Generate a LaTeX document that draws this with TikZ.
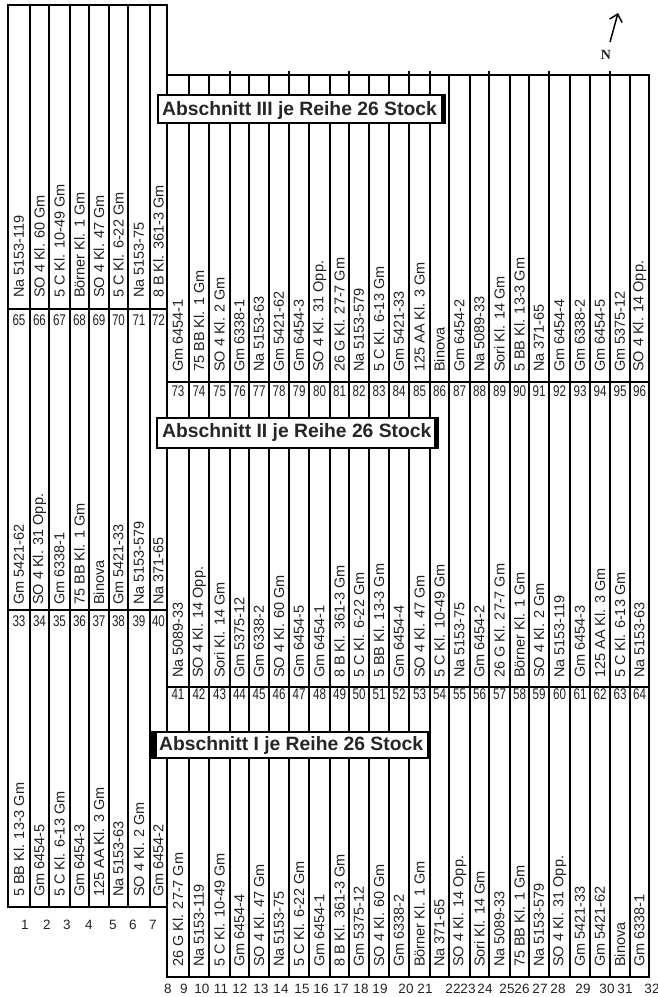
\documentclass[tikz,border=0pt]{standalone}
\usepackage{fontspec}
\usetikzlibrary{arrows.meta}
\newfontfamily\lsans{Liberation Sans}
\newfontfamily\lserif{Liberation Serif}
\definecolor{ink}{HTML}{222222}
\tikzset{
  stxt/.style={rotate=90,anchor=west,inner sep=0pt,text=ink,font=\lsans\fontsize{14.5}{15}\selectfont},
  numtxt/.style={inner sep=0pt,text=ink,font=\lsans\fontsize{15.5}{15}\selectfont},
  lbltxt/.style={inner sep=0pt,text=ink,font=\lsans\fontsize{13.5}{14}\selectfont},
  boxtxt/.style={anchor=base west,inner sep=0pt,text=black!85,font=\lsans\bfseries\fontsize{19.3}{20}\selectfont},
  hline/.style={line width=2.4pt,line cap=rect},
  boxframe/.style={draw=black,line width=1.3pt,fill=white},
}
\begin{document}
\begin{tikzpicture}[x=1pt,y=-1pt]
\fill[white] (0,0) rectangle (658,997);
\useasboundingbox (0,0) rectangle (658,997);

% ---------- vertical row lines ----------
\foreach \x/\w in {8/1.6,30/2.4,49/1.2,70/2.4,89/1.2,109/2.4,128/2.4,150/1.2}
  \draw[line width=\w pt] (\x,5) -- (\x,907);
\draw[line width=2.4pt] (167,5) -- (167,977);
\foreach \x/\w in {189/1.2,209/2.4,230/1.2,249/2.4,269/1.2,289/2.4,309/2.0,330/2.4,349/2.4,369/1.2,389/2.4,409/1.2,430/2.4,449/1.2,470/2.4,489/2.4,510/2.4,529/2.4,549/1.2,570/2.4,590/1.2,610/2.4,630/1.2,649/2.4}
  \draw[line width=\w pt] (\x,75) -- (\x,977);
\foreach \x in {230,289,349,409,430,489,549,610}
  \draw[line width=1.6pt] (\x,71) -- (\x,75);

% ---------- horizontal lines ----------
\draw[hline] (8,5) -- (167,5);
\draw[hline] (8,309) -- (167,309);
\draw[hline] (8,610) -- (167,610);
\draw[hline] (8,907) -- (167,907);
\draw[hline] (167,75) -- (649,75);
\draw[hline] (167,382) -- (649,382);
\draw[hline] (167,687) -- (649,687);
\draw[hline] (167,977) -- (649,977);

% ---------- section boxes ----------
\draw[boxframe] (158,95) rectangle (445,123);
\fill[black] (441,95) rectangle (446,123);
\node[boxtxt] (b3) at (162,115) {Abschnitt III je Reihe 26 Stock};

\draw[boxframe] (157,418) rectangle (438,448);
\fill[black] (434,418) rectangle (439,448);
\draw[line width=2pt] (157,448) -- (438,448);
\node[boxtxt] (b2) at (162,437) {Abschnitt II je Reihe 26 Stock};

\draw[boxframe] (153,732) rectangle (428,758);
\fill[black] (151,731) rectangle (157,759);
\node[boxtxt] (b1) at (159,750) {Abschnitt I je Reihe 26 Stock};

% ---------- Section III texts ----------
\foreach \c/\t [count=\n from 65] in {19/Na 5153-119,39.5/SO 4 Kl. 60 Gm,59.5/5 C Kl. 10-49 Gm,79.5/Börner Kl. 1 Gm,99/SO 4 Kl. 47 Gm,118.5/5 C Kl. 6-22 Gm,139/Na 5153-75,158.5/8 B Kl. 361-3 Gm}
{
  \node[stxt] (t\n) at (\c,298) {\t};
  \node[numtxt] (n\n) at (\c,320) {\scalebox{0.75}[1]{\n}};
}
\foreach \c/\t [count=\n from 73] in {178/Gm 6454-1,199/75 BB Kl. 1 Gm,219.5/SO 4 Kl. 2 Gm,239.5/Gm 6338-1,259/Na 5153-63,279/Gm 5421-62,299/Gm 6454-3,319.5/SO 4 Kl. 31 Opp.,339.5/26 G Kl. 27-7 Gm,359/Na 5153-579,379/5 C Kl. 6-13 Gm,399/Gm 5421-33,419.5/125 AA Kl. 3 Gm,439.5/Binova,459.5/Gm 6454-2,479.5/Na 5089-33,499.5/Sori Kl. 14 Gm,519.5/5 BB Kl. 13-3 Gm,539/Na 371-65,559.5/Gm 6454-4,580/Gm 6338-2,600/Gm 6454-5,620/Gm 5375-12,639.5/SO 4 Kl. 14 Opp.}
{
  \node[stxt] (t\n) at (\c,372) {\t};
  \node[numtxt] (n\n) at (\c,391) {\scalebox{0.75}[1]{\n}};
}

% ---------- Section II texts ----------
\foreach \c/\t [count=\n from 33] in {19/Gm 5421-62,39.5/SO 4 Kl. 31 Opp.,59.5/Gm 6338-1,79.5/75 BB Kl. 1 Gm,99/Binova,118.5/Gm 5421-33,139/Na 5153-579,158.5/Na 371-65}
{
  \node[stxt] (t\n) at (\c,605) {\t};
  \node[numtxt] (n\n) at (\c,621) {\scalebox{0.75}[1]{\n}};
}
\foreach \c/\t [count=\n from 41] in {178/Na 5089-33,199/SO 4 Kl. 14 Opp.,219.5/Sori Kl. 14 Gm,239.5/Gm 5375-12,259/Gm 6338-2,279/SO 4 Kl. 60 Gm,299/Gm 6454-5,319.5/Gm 6454-1,339.5/8 B Kl. 361-3 Gm,359/5 C Kl. 6-22 Gm,379/5 BB Kl. 13-3 Gm,399/Gm 6454-4,419.5/SO 4 Kl. 47 Gm,439.5/5 C Kl. 10-49 Gm,459.5/Na 5153-75,479.5/Gm 6454-2,499.5/26 G Kl. 27-7 Gm,519.5/Börner Kl. 1 Gm,539/SO 4 Kl. 2 Gm,559.5/Na 5153-119,580/Gm 6454-3,600/125 AA Kl. 3 Gm,620/5 C Kl. 6-13 Gm,639.5/Na 5153-63}
{
  \node[stxt] (t\n) at (\c,678) {\t};
  \node[numtxt] (n\n) at (\c,694) {\scalebox{0.75}[1]{\n}};
}

% ---------- Section I texts ----------
\foreach \c/\t [count=\n from 1] in {19/5 BB Kl. 13-3 Gm,39.5/Gm 6454-5,59.5/5 C Kl. 6-13 Gm,79.5/Gm 6454-3,99/125 AA Kl. 3 Gm,118.5/Na 5153-63,139/SO 4 Kl. 2 Gm,158.5/Gm 6454-2}
  \node[stxt] (t\n) at (\c,897) {\t};
\foreach \c/\t [count=\n from 9] in {178/26 G Kl. 27-7 Gm,199/Na 5153-119,219.5/5 C Kl. 10-49 Gm,239.5/Gm 6454-4,259/SO 4 Kl. 47 Gm,279/Na 5153-75,299/5 C Kl. 6-22 Gm,319.5/Gm 6454-1,339.5/8 B Kl. 361-3 Gm,359/Gm 5375-12,379/SO 4 Kl. 60 Gm,399/Gm 6338-2,419.5/Börner Kl. 1 Gm,439.5/Na 371-65,459.5/SO 4 Kl. 14 Opp.,479.5/Sori Kl. 14 Gm,499.5/Na 5089-33,519.5/75 BB Kl. 1 Gm,539/Na 5153-579,559.5/SO 4 Kl. 31 Opp.,580/Gm 5421-33,600/Gm 5421-62,620/Binova,639.5/Gm 6338-1}
  \node[stxt] (t\n) at (\c,967) {\t};

% ---------- row numbers ----------
\foreach \r/\x in {1/25,2/47,3/67,4/89,5/113,6/133,7/153}
  \node[lbltxt] (r\r) at (\x,925) {\r};
\foreach \r/\x in {8/168,9/184,10/202,11/221,12/240,13/261,14/281,15/302,16/321,17/341,18/361,19/380,20/406,21/425,22/453,23/468,24/485,25/507,26/522,27/540,28/558,29/583,30/607,31/625,32/652}
  \node[lbltxt] (r\r) at (\x,989) {\r};

% ---------- north arrow ----------
\coordinate (ntail) at (610,42);
\coordinate (nhead) at (618,13);
\draw[line width=1.5pt,-{Straight Barb[length=7pt,width=13pt,line width=1.5pt]}] (ntail) -- (nhead);
\node[inner sep=0pt,font=\lserif\bfseries\fontsize{14}{14}\selectfont,text=ink] (north) at (606,55) {N};
\end{tikzpicture}
\end{document}
